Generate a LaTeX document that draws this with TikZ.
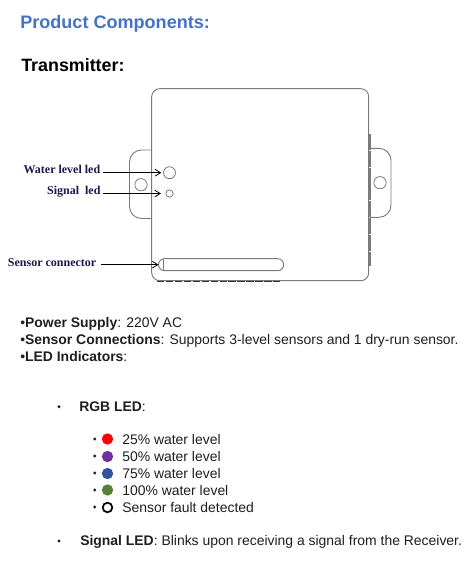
\documentclass[tikz,border=0pt]{standalone}
\usepackage{fontspec}
\setmainfont{Liberation Sans}
\newfontfamily\serifb{Liberation Serif}
\definecolor{titleblue}{HTML}{4472C4}
\definecolor{inktxt}{HTML}{1F1F1F}
\definecolor{navylbl}{HTML}{1A1A50}
\definecolor{boxgray}{HTML}{7A7A7A}
\definecolor{ledpurple}{HTML}{7030A0}
\definecolor{ledblue}{HTML}{2F5597}
\definecolor{ledgreen}{HTML}{548235}
\usetikzlibrary{arrows.meta}
\tikzset{
  x=0.75pt,y=-0.75pt,
  bodyline/.style={draw=boxgray,line width=0.7pt},
  lbl/.style={font=\serifb\bfseries\fontsize{9}{11}\selectfont,text=navylbl,inner sep=0pt,anchor=east},
  txt/.style={font=\fontsize{10.45}{12}\selectfont,text=inktxt,inner sep=0pt,anchor=base west},
  ptr/.style={draw=black,line width=0.6pt,-{Straight Barb[length=4pt,width=5pt]}},
  dot/.style={circle,inner sep=0pt,minimum size=8.5pt},
  ledring/.style={circle,draw=boxgray,line width=0.6pt,inner sep=0pt},
  bul/.style={circle,fill=inktxt,inner sep=0pt,minimum size=2.5pt},
}
\begin{document}
\begin{tikzpicture}
\useasboundingbox (0,0) rectangle (464,587);
\fill[white] (0,0) rectangle (464,587);
\node[anchor=base west,inner sep=0pt,text=titleblue,font=\bfseries\fontsize{13.55}{16}\selectfont] (title) at (20,28) {Product Components:};
\node[anchor=base west,inner sep=0pt,text=black,font=\bfseries\fontsize{13.4}{16}\selectfont] (trans) at (21,71) {Transmitter:};
% body
\draw[bodyline,rounded corners=6] (151.7,88.7) rectangle (368.7,280.7);
% left ear
\draw[bodyline,rounded corners=9] (151.7,150) -- (129.5,150) -- (129.5,218.5) -- (151.7,218.5);
\node[ledring,minimum size=9.2pt] (hole1) at (141,184.7) {};
% right ear
\draw[bodyline,rounded corners=9] (370,148.3) -- (391,148.3) -- (391,217.3) -- (370,217.3);
\node[ledring,minimum size=9.2pt] (hole2) at (380,182.7) {};
% right strip
\draw[draw=boxgray,line width=1.3pt,dash pattern=on 12pt off 0.6pt] (369.7,134) -- (369.7,266);
% bottom strip
\draw[draw=black!80,line width=1.1pt,dash pattern=on 5.5pt off 1.2pt] (157,281.5) -- (280,281.5);
% LEDs and connector
\node[ledring,minimum size=9pt] (wled) at (169.5,172.7) {};
\node[ledring,minimum size=5.5pt] (sled) at (169.5,193.5) {};
\draw[bodyline,rounded corners=4.5] (158.5,258.7) rectangle (283.7,270.7);
\draw[bodyline] (163,258.7) -- (163,270.7);
\coordinate (conn) at (158.5,264.7);
% labels
\node[lbl] (l1) at (100.5,169) {Water level led};
\node[lbl] (l2) at (100.7,192) {Signal\ \ led};
\node[lbl] (l3) at (96.5,262.7) {Sensor connector};
\draw[ptr,shorten >=1.4pt] (103.3,172.7) -- (wled.west);
\draw[ptr,shorten >=3.4pt] (103.3,193.5) -- (sled.west);
\draw[ptr] (101,264.7) -- (conn);
% text
\node[txt] (t1) at (20,327) {•\textbf{Power Supply}: 220V AC};
\node[txt] (t2) at (20,344) {•\textbf{Sensor Connections}: Supports 3-level sensors and 1 dry-run sensor.};
\node[txt] (t3) at (20,361) {•\textbf{LED Indicators}:};
\node[bul] (b0) at (59,406.7) {};
\node[txt] (rgb) at (79,411) {\textbf{RGB LED}:};
\node[bul] (b1) at (94.7,439) {};
\node[dot,fill=red] (d1) at (107.5,439) {};
\node[txt] (s1) at (122,444) {25\% water level};
\node[bul] (b2) at (94.7,456) {};
\node[dot,fill=ledpurple] (d2) at (107.5,456.5) {};
\node[txt] (s2) at (122,461) {50\% water level};
\node[bul] (b3) at (94.7,473) {};
\node[dot,fill=ledblue] (d3) at (107.5,473.5) {};
\node[txt] (s3) at (122,478) {75\% water level};
\node[bul] (b4) at (94.7,490) {};
\node[dot,fill=ledgreen] (d4) at (107.5,490) {};
\node[txt] (s4) at (122,495) {100\% water level};
\node[bul] (b5) at (94.7,507) {};
\node[circle,draw=black,line width=1.3pt,inner sep=0pt,minimum size=7.2pt] (d5) at (107.5,507.5) {};
\node[txt] (s5) at (122,512) {Sensor fault detected};
\node[bul] (b6) at (59,541) {};
\node[txt] (sig) at (80,545) {\textbf{Signal LED}: Blinks upon receiving a signal from the Receiver.};
\end{tikzpicture}
\end{document}
